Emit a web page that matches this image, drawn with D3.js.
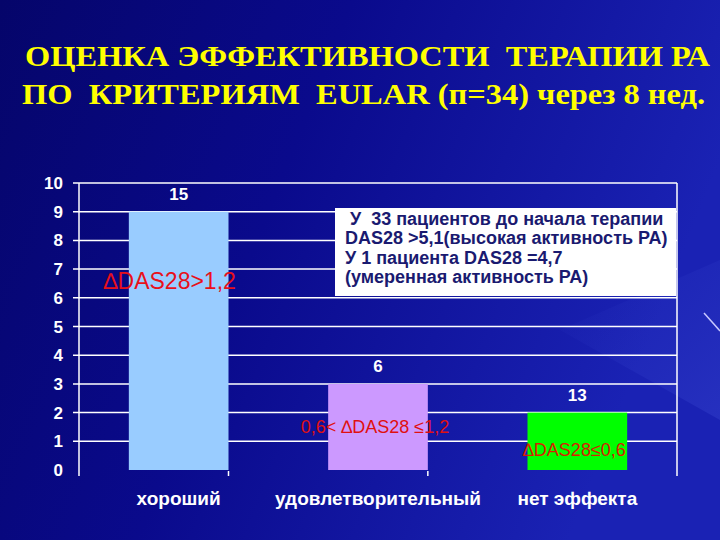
<!DOCTYPE html>
<html>
<head>
<meta charset="utf-8">
<script src="https://cdn.jsdelivr.net/npm/d3@7"></script>
<style>
  body { margin: 0; background: #0a0a80; }
  svg { display: block; }
</style>
</head>
<body>
<div id="chart"></div>
<script>
// chart data
const categories = ["хороший", "удовлетворительный", "нет эффекта"];
const values = [9, 3, 2];
const counts = ["15", "6", "13"];
const barColors = ["#99ccff", "#cc99ff", "#00ff00"];
const deltaLabels = ["\u2206DAS28>1,2", "0,6< \u2206DAS28 \u22641,2", "\u2206DAS28\u22640,6"];
const yTicks = [0, 1, 2, 3, 4, 5, 6, 7, 8, 9, 10];
const titleLines = ["ОЦЕНКА ЭФФЕКТИВНОСТИ  ТЕРАПИИ РА", "ПО  КРИТЕРИЯМ  EULAR (п=34) через 8 нед."];
const noteLines = [" У  33 пациентов до начала терапии", "DAS28 >5,1(высокая активность РА)", "У 1 пациента DAS28 =4,7", "(умеренная активность РА)"];

const W = 720, H = 540;
const margin = {top: 183, right: 43, bottom: 70, left: 79},
    width = W - margin.left - margin.right,
    height = H - margin.top - margin.bottom;

const svg = d3.select("#chart").append("svg")
    .attr("width", W)
    .attr("height", H);

// background gradient
const defs = svg.append("defs");
const bg = defs.append("linearGradient").attr("id", "bg")
    .attr("x1", "0").attr("y1", "0").attr("x2", "1").attr("y2", "0.3");
bg.append("stop").attr("offset", "0%").attr("stop-color", "#05056a");
bg.append("stop").attr("offset", "45%").attr("stop-color", "#0a0a8c");
bg.append("stop").attr("offset", "100%").attr("stop-color", "#1a22b4");
svg.append("rect").attr("width", W).attr("height", H).attr("fill", "url(#bg)");

// some soft streaks at right
const streak = defs.append("linearGradient").attr("id", "streak")
    .attr("x1", "0").attr("y1", "0").attr("x2", "1").attr("y2", "1");
streak.append("stop").attr("offset", "0%").attr("stop-color", "#3a4ad0").attr("stop-opacity", 0);
streak.append("stop").attr("offset", "100%").attr("stop-color", "#4a5ae0").attr("stop-opacity", 0.5);
svg.append("path")
    .attr("d", "M560,330 L720,260 L720,420 Z")
    .attr("fill", "url(#streak)").attr("opacity", 0.5);
svg.append("line")
    .attr("x1", 704).attr("y1", 313).attr("x2", 720).attr("y2", 331)
    .attr("stroke", "#c8c8ff").attr("stroke-width", 1.5);

// title
svg.selectAll(".title")
  .data(titleLines)
  .enter()
  .append("text")
    .attr("class", "title")
    .attr("x", (d, i) => i === 0 ? 25 : 22)
    .attr("y", (d, i) => i === 0 ? 66 : 104)
    .attr("textLength", (d, i) => i === 0 ? 685 : 683)
    .attr("lengthAdjust", "spacingAndGlyphs")
    .style("font-family", "'Liberation Serif', 'Times New Roman', serif")
    .style("font-weight", "bold")
    .style("font-size", "30px")
    .style("fill", "#ffff00")
    .style("white-space", "pre")
    .text(d => d);

const g = svg.append("g")
    .attr("transform", `translate(${margin.left}, ${margin.top})`);

const x = d3.scaleBand()
    .domain(categories)
    .range([0, width])
    .paddingInner(0.5)
    .paddingOuter(0.25);

const y = d3.scaleLinear()
    .domain([0, 10])
    .range([height, 0]);

// gridlines
g.selectAll(".grid")
  .data(yTicks.filter(d => d > 0))
  .enter()
  .append("line")
    .attr("x1", -6).attr("x2", width)
    .attr("y1", d => y(d)).attr("y2", d => y(d))
    .attr("stroke", "#ffffff")
    .attr("stroke-width", 1.5);

// y axis line + right border
g.append("line").attr("x1", 0).attr("x2", 0).attr("y1", 0).attr("y2", height + 6)
    .attr("stroke", "#ffffff").attr("stroke-width", 1.5);
g.append("line").attr("x1", width).attr("x2", width).attr("y1", 0).attr("y2", height + 6)
    .attr("stroke", "#ffffff").attr("stroke-width", 1.5);

// x ticks between categories
g.selectAll(".xtick")
  .data(categories.slice(1))
  .enter()
  .append("line")
    .attr("x1", d => x(d) - x.step() * x.paddingInner() / 2 - x.bandwidth() / 2)
    .attr("x2", d => x(d) - x.step() * x.paddingInner() / 2 - x.bandwidth() / 2)
    .attr("y1", height + 1).attr("y2", height + 6)
    .attr("stroke", "#ffffff").attr("stroke-width", 1.5);

// y tick labels
g.selectAll(".ylab")
  .data(yTicks)
  .enter()
  .append("text")
    .attr("x", -16)
    .attr("y", d => y(d) + 6)
    .attr("text-anchor", "end")
    .style("font-family", "Arial, 'Liberation Sans', sans-serif")
    .style("font-weight", "bold")
    .style("font-size", "17px")
    .style("fill", "#ffffff")
    .text(d => d);

// bars
g.selectAll(".bar")
  .data(values)
  .enter()
  .append("rect")
    .attr("x", (d, i) => x(categories[i]))
    .attr("y", d => y(d))
    .attr("width", x.bandwidth())
    .attr("height", d => height - y(d))
    .attr("fill", (d, i) => barColors[i]);

// counts above bars
g.selectAll(".count")
  .data(values)
  .enter()
  .append("text")
    .attr("x", (d, i) => x(categories[i]) + x.bandwidth() / 2)
    .attr("y", d => y(d) - 12)
    .attr("text-anchor", "middle")
    .style("font-family", "Arial, 'Liberation Sans', sans-serif")
    .style("font-weight", "bold")
    .style("font-size", "17px")
    .style("fill", "#ffffff")
    .text((d, i) => counts[i]);

// category labels
g.selectAll(".cat")
  .data(categories)
  .enter()
  .append("text")
    .attr("x", d => x(d) + x.bandwidth() / 2)
    .attr("y", height + 35)
    .attr("text-anchor", "middle")
    .style("font-family", "Arial, 'Liberation Sans', sans-serif")
    .style("font-weight", "bold")
    .style("font-size", "19px")
    .style("fill", "#ffffff")
    .text(d => d);

// red delta annotations (anchor in data units, offset in px)
const deltaAnchor = [{v: 6.3, dx: -9, size: 23, color: "#e8101a"},
                     {v: 1.3, dx: -3, size: 18, color: "#e01010"},
                     {v: 0.5, dx: -3, size: 18, color: "#d82000"}];
g.selectAll(".delta")
  .data(deltaLabels)
  .enter()
  .append("text")
    .attr("x", (d, i) => x(categories[i]) + x.bandwidth() / 2 + deltaAnchor[i].dx)
    .attr("y", (d, i) => y(deltaAnchor[i].v))
    .attr("text-anchor", "middle")
    .style("font-family", "Arial, 'Liberation Sans', sans-serif")
    .style("font-size", (d, i) => deltaAnchor[i].size + "px")
    .style("fill", (d, i) => deltaAnchor[i].color)
    .style("white-space", "pre")
    .text(d => d);

// note box
const note = svg.append("g").attr("transform", "translate(335, 208)");
note.append("rect")
    .attr("width", 341).attr("height", 88)
    .attr("fill", "#ffffff");
note.selectAll("text")
  .data(noteLines)
  .enter()
  .append("text")
    .attr("x", 10)
    .attr("y", (d, i) => 17 + i * 19.3)
    .style("font-family", "Arial, 'Liberation Sans', sans-serif")
    .style("font-weight", "bold")
    .style("font-size", "18px")
    .style("fill", "#1a1a70")
    .style("white-space", "pre")
    .text(d => d);
</script>
</body>
</html>
